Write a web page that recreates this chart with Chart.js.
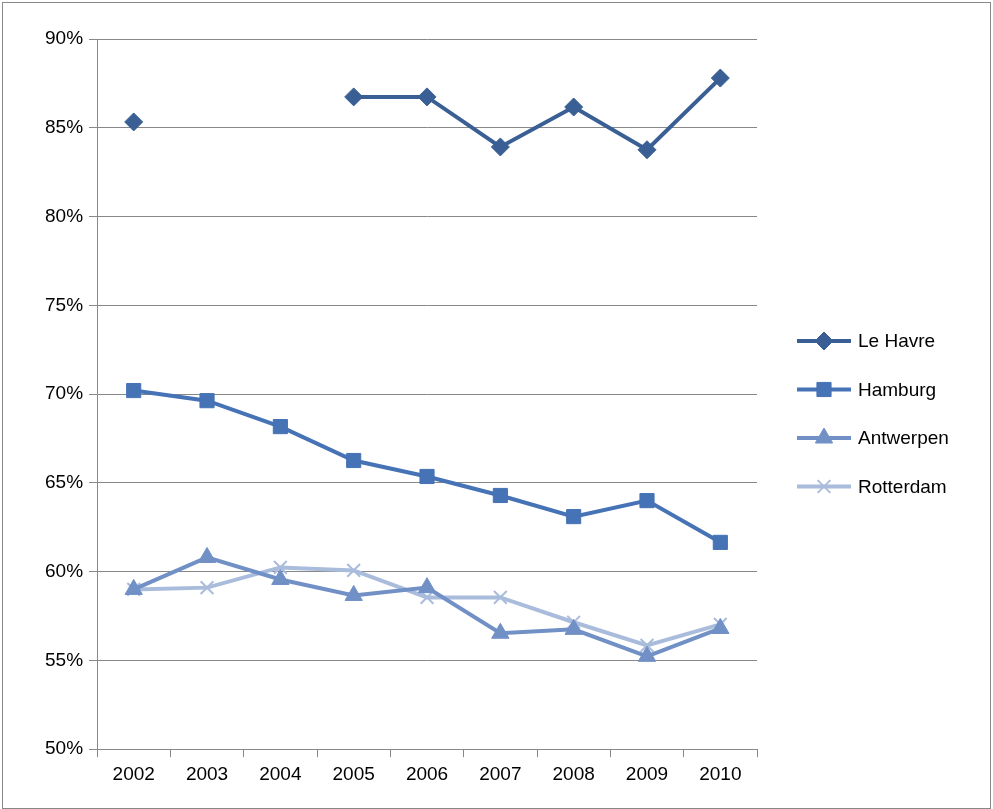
<!DOCTYPE html>
<html>
<head>
<script src="https://cdn.jsdelivr.net/npm/chart.js@4"></script>
<style>
body { margin: 0; background: #fff; }
#wrap { position: absolute; left: 2px; top: 2px; width: 987px; height: 805px; border: 1px solid #888; }
</style>
</head>
<body>
<div id="wrap"><canvas id="c"></canvas></div>
<script>
// categories
const years = ["2002", "2003", "2004", "2005", "2006", "2007", "2008", "2009", "2010"];

// series values (percent)
const leHavre = [85.33, null, null, 86.74, 86.74, 83.92, 86.17, 83.76, 87.8];
const hamburg = [70.2, 69.63, 68.17, 66.26, 65.36, 64.29, 63.1, 64.0, 61.65];
const antwerpen = [59.0, 60.8, 59.56, 58.66, 59.1, 56.53, 56.75, 55.23, 56.8];
const rotterdam = [59.0, 59.1, 60.24, 60.07, 58.55, 58.55, 57.15, 55.85, 57.03];

Chart.defaults.font.family = "Liberation Sans";
Chart.defaults.font.size = 19;
Chart.defaults.color = "#000";

function series(label, data, color, style, radius) {
    return {
        label: label,
        data: data,
        borderColor: color,
        backgroundColor: color,
        borderWidth: 4,
        pointStyle: style,
        pointRadius: radius,
        pointHoverRadius: radius,
        pointBorderWidth: style == "crossRot" ? 2 : 1,
        tension: 0
    };
}

// legend with line + marker, drawn on the right
const lineLegend = {
    id: "lineLegend",
    afterDraw(chart) {
        const ctx = chart.ctx;
        const x0 = 794, y0 = 338, gap = 48.5;
        ctx.save();
        chart.data.datasets.forEach(function (ds, i) {
            const y = y0 + i * gap;
            ctx.strokeStyle = ds.borderColor;
            ctx.lineWidth = 4;
            ctx.beginPath();
            ctx.moveTo(x0, y);
            ctx.lineTo(x0 + 54, y);
            ctx.stroke();
            ctx.fillStyle = ds.backgroundColor;
            ctx.lineWidth = ds.pointBorderWidth;
            Chart.helpers.drawPoint(ctx, { pointStyle: ds.pointStyle, radius: ds.pointRadius, borderWidth: ds.pointBorderWidth }, x0 + 27, y);
            ctx.fillStyle = "#000";
            ctx.font = "19px Liberation Sans";
            ctx.textBaseline = "middle";
            ctx.fillText(ds.label, x0 + 61, y + 1);
        });
        ctx.restore();
    }
};

new Chart(document.getElementById("c"), {
    type: "line",
    data: {
        labels: years,
        datasets: [
            series("Le Havre", leHavre, "#3a5f94", "rectRot", 9),
            series("Hamburg", hamburg, "#4673b5", "rect", 10),
            series("Antwerpen", antwerpen, "#7190c6", "triangle", 10),
            series("Rotterdam", rotterdam, "#aabcdc", "crossRot", 9)
        ]
    },
    plugins: [lineLegend],
    options: {
        responsive: true,
        maintainAspectRatio: false,
        animation: false,
        layout: { padding: { left: 36, top: 36, right: 233, bottom: 16 } },
        plugins: {
            legend: { display: false },
            tooltip: { enabled: false }
        },
        scales: {
            x: {
                offset: true,
                grid: { display: true, drawOnChartArea: false, color: "#888", tickLength: 8, offset: true },
                border: { color: "#888" },
                ticks: { padding: 6 }
            },
            y: {
                min: 50,
                max: 90,
                ticks: { stepSize: 5, callback: v => v + "%", padding: 6 },
                grid: { color: "#888", tickLength: 8 },
                border: { color: "#888" }
            }
        }
    }
});
</script>
</body>
</html>
